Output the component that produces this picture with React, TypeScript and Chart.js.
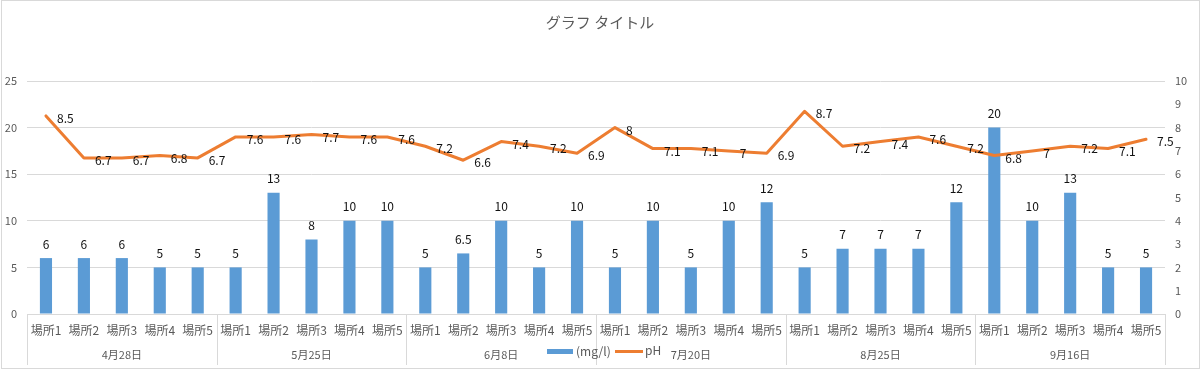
import React, { useEffect, useRef } from 'react';
import { Chart, registerables } from 'chart.js';

Chart.register(...registerables);

const places = ['場所1', '場所2', '場所3', '場所4', '場所5'];
const dates = ['4月28日', '5月25日', '6月8日', '7月20日', '8月25日', '9月16日'];
const mgValues = [6, 6, 6, 5, 5, 5, 13, 8, 10, 10, 5, 6.5, 10, 5, 10, 5, 10, 5, 10, 12, 5, 7, 7, 7, 12, 20, 10, 13, 5, 5];
const phValues = [8.5, 6.7, 6.7, 6.8, 6.7, 7.6, 7.6, 7.7, 7.6, 7.6, 7.2, 6.6, 7.4, 7.2, 6.9, 8, 7.1, 7.1, 7, 6.9, 8.7, 7.2, 7.4, 7.6, 7.2, 6.8, 7, 7.2, 7.1, 7.5];
const title = 'グラフ タイトル';
const mgLabel = '(mg/l)';
const phLabel = 'pH';

const labels = dates.flatMap(() => places);

const FONT = '"Noto Sans CJK JP", "Noto Sans", sans-serif';
const BLUE = '#5b9bd5';
const ORANGE = '#ed7d31';
const GRID = '#d9d9d9';
const TICK = '#595959';
const LABEL = '#111111';

export default function App() {
  const ref = useRef<HTMLCanvasElement>(null);
  useEffect(() => {
    document.body.style.margin = '0';
    const canvas = ref.current!;
    const overlay = {
      id: 'overlay',
      afterDatasetsDraw(chart: any) {
        const ctx = chart.ctx;
        ctx.save();
        ctx.font = `12px ${FONT}`;
        ctx.fillStyle = LABEL;
        const barMeta = chart.getDatasetMeta(1);
        barMeta.data.forEach((el: any, i: number) => {
          ctx.textAlign = 'center';
          ctx.textBaseline = 'middle';
          ctx.fillText(String(mgValues[i]), el.x, el.y - 14);
        });
        const lineMeta = chart.getDatasetMeta(0);
        lineMeta.data.forEach((el: any, i: number) => {
          ctx.textAlign = 'left';
          ctx.textBaseline = 'middle';
          ctx.fillText(String(phValues[i]), el.x + 11, el.y + 2.5);
        });
        ctx.restore();
      },
      afterDraw(chart: any) {
        const ctx = chart.ctx;
        const a = chart.chartArea;
        ctx.save();
        ctx.strokeStyle = GRID;
        ctx.lineWidth = 1;
        ctx.strokeRect(1.5, 0.5, 1198, 368);
        ctx.fillStyle = TICK;
        ctx.font = `15px ${FONT}`;
        ctx.textAlign = 'center';
        ctx.textBaseline = 'middle';
        ctx.fillText(title, 600, 22);
        const gw = (a.right - a.left) / dates.length;
        ctx.strokeStyle = GRID;
        for (let g = 0; g <= dates.length; g++) {
          const x = Math.round(a.left + g * gw) + 0.5;
          ctx.beginPath();
          ctx.moveTo(x, a.bottom);
          ctx.lineTo(x, 365);
          ctx.stroke();
        }
        ctx.font = `11px ${FONT}`;
        ctx.fillStyle = TICK;
        dates.forEach((d, g) => {
          ctx.fillText(d, a.left + (g + 0.5) * gw, 355);
        });
        ctx.fillStyle = BLUE;
        ctx.fillRect(547, 349, 26, 5);
        ctx.fillStyle = TICK;
        ctx.textAlign = 'left';
        ctx.font = `12px ${FONT}`;
        ctx.fillText(mgLabel, 576, 351);
        ctx.strokeStyle = ORANGE;
        ctx.lineWidth = 3;
        ctx.beginPath();
        ctx.moveTo(615, 351.5);
        ctx.lineTo(643, 351.5);
        ctx.stroke();
        ctx.fillStyle = TICK;
        ctx.fillText(phLabel, 645, 350);
        ctx.restore();
      },
    };
    const chart = new Chart(canvas, {
      type: 'bar',
      data: {
        labels,
        datasets: [
          {
            type: 'line',
            label: phLabel,
            data: phValues,
            yAxisID: 'y1',
            borderColor: ORANGE,
            backgroundColor: ORANGE,
            borderWidth: 3,
            pointRadius: 0,
            tension: 0,
            order: 0,
            borderJoinStyle: 'round',
            borderCapStyle: 'round',
          } as any,
          {
            type: 'bar',
            label: mgLabel,
            data: mgValues,
            yAxisID: 'y',
            backgroundColor: BLUE,
            barPercentage: 0.4,
            categoryPercentage: 0.8,
            order: 1,
          } as any,
        ],
      },
      options: {
        responsive: false,
        animation: false,
        layout: { padding: { top: 81, left: 0, right: 0, bottom: 0 } },
        plugins: {
          legend: { display: false },
          title: { display: false },
          tooltip: { enabled: false },
        },
        scales: {
          x: {
            offset: true,
            grid: { display: false, drawTicks: false },
            border: { display: true, color: GRID },
            ticks: { font: { family: FONT, size: 12 }, color: TICK, padding: 9, autoSkip: false, maxRotation: 0 },
            afterFit: (s: any) => { s.height = 57; },
          },
          y: {
            position: 'left',
            min: 0,
            max: 25,
            ticks: { stepSize: 5, padding: 10, font: { family: FONT, size: 11 }, color: TICK },
            grid: { color: GRID, drawTicks: false },
            border: { display: false },
            afterFit: (s: any) => { s.width = 27; },
          },
          y1: {
            position: 'right',
            min: 0,
            max: 10,
            ticks: { stepSize: 1, padding: 10, font: { family: FONT, size: 11 }, color: TICK },
            grid: { display: false, drawTicks: false },
            border: { display: false },
            afterFit: (s: any) => { s.width = 37; },
          },
        },
      } as any,
      plugins: [overlay],
    });
    return () => chart.destroy();
  }, []);
  return (
    <div style={{ position: 'absolute', left: 0, top: 0 }}>
      <canvas ref={ref} width={1202} height={371} style={{ display: 'block', width: 1202, height: 371 }} />
    </div>
  );
}
